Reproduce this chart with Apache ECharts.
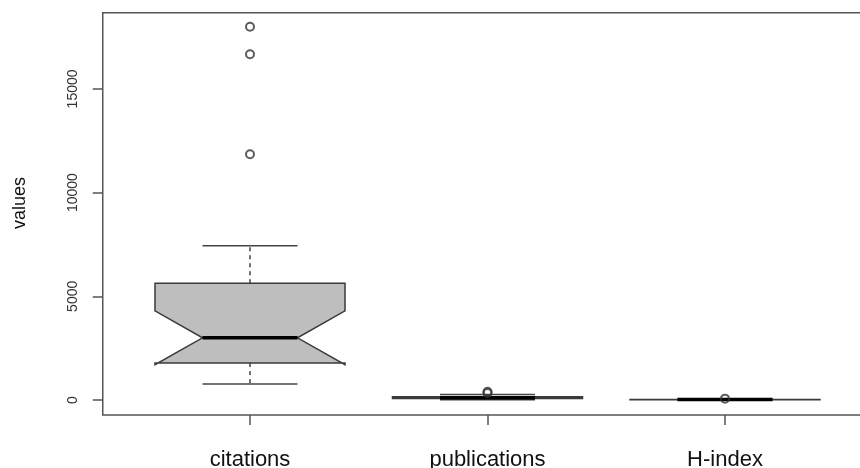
<!DOCTYPE html>
<html>
<head>
<meta charset="utf-8">
<script src="https://cdn.jsdelivr.net/npm/echarts@6/dist/echarts.min.js"></script>
<style>
html,body{margin:0;padding:0;background:#fff;}
#chart{width:860px;height:468px;}
</style>
</head>
<body>
<div id="chart"></div>
<script>
// Data
var categories = ['citations', 'publications', 'H-index'];
// [lowerWhisker, Q1, median, Q3, upperWhisker]
var boxStats = [
  [770, 1780, 3000, 5630, 7440],
  [15, 70, 110, 160, 270],
  [5, 12, 20, 30, 45]
];
// notch limits [lower, upper]
var notches = [
  [1700, 4300],
  [85, 135],
  [16, 24]
];
var outliersCitations = [11850, 16670, 18000];
var outliersPublications = [340, 400];
var outliersHindex = [65];
var yTicks = [0, 5000, 10000, 15000];

var outlierData = [];
[outliersCitations, outliersPublications, outliersHindex].forEach(function (arr, i) {
  arr.forEach(function (v) { outlierData.push([i + 1, v]); });
});

var boxData = boxStats.map(function (s, i) {
  return [i + 1, s[0], s[1], s[2], s[3], s[4], notches[i][0], notches[i][1]];
});

function renderBox(params, api) {
  var x = api.value(0);
  var lo = api.value(1), q1 = api.value(2), med = api.value(3), q3 = api.value(4), hi = api.value(5);
  var nLo = api.value(6), nHi = api.value(7);
  var hw = 0.4, nw = 0.2, cw = 0.2;
  function c(xx, yy) { return api.coord([xx, yy]); }
  var poly = [
    c(x - hw, q1), c(x - hw, nLo), c(x - nw, med), c(x - hw, nHi), c(x - hw, q3),
    c(x + hw, q3), c(x + hw, nHi), c(x + nw, med), c(x + hw, nLo), c(x + hw, q1)
  ];
  var lineStyle = { stroke: '#444', lineWidth: 1.5, fill: null };
  var dashStyle = { stroke: '#444', lineWidth: 1.5, lineDash: [4, 4], fill: null };
  var pU1 = c(x, q3), pU2 = c(x, hi), pL1 = c(x, q1), pL2 = c(x, lo);
  var capHi1 = c(x - cw, hi), capHi2 = c(x + cw, hi);
  var capLo1 = c(x - cw, lo), capLo2 = c(x + cw, lo);
  var m1 = c(x - nw, med), m2 = c(x + nw, med);
  return {
    type: 'group',
    children: [
      { type: 'line', shape: { x1: pU1[0], y1: pU1[1], x2: pU2[0], y2: pU2[1] }, style: dashStyle },
      { type: 'line', shape: { x1: pL1[0], y1: pL1[1], x2: pL2[0], y2: pL2[1] }, style: dashStyle },
      { type: 'line', shape: { x1: capHi1[0], y1: capHi1[1], x2: capHi2[0], y2: capHi2[1] }, style: lineStyle },
      { type: 'line', shape: { x1: capLo1[0], y1: capLo1[1], x2: capLo2[0], y2: capLo2[1] }, style: lineStyle },
      { type: 'polygon', shape: { points: poly }, style: { fill: '#BEBEBE', stroke: '#3a3a3a', lineWidth: 1.5 } },
      { type: 'line', shape: { x1: m1[0], y1: m1[1], x2: m2[0], y2: m2[1] }, style: { stroke: '#000', lineWidth: 3.5 } }
    ]
  };
}

var chart = echarts.init(document.getElementById('chart'), null, { renderer: 'canvas' });
chart.setOption({
  animation: false,
  backgroundColor: '#fff',
  grid: {
    left: 102.75, top: 12.7, width: 769.5, height: 402.3,
    outerBoundsMode: 'none', containLabel: false,
    show: true, borderColor: '#555', borderWidth: 1.5, backgroundColor: 'transparent'
  },
  xAxis: {
    type: 'value', min: 0.38, max: 3.62,
    splitLine: { show: false },
    axisLine: { show: false, onZero: false },
    axisTick: { show: true, customValues: [1, 2, 3], length: 10, lineStyle: { color: '#555', width: 1.5 } },
    axisLabel: {
      customValues: [1, 2, 3], margin: 34,
      formatter: function (v) { return categories[Math.round(v) - 1]; },
      fontFamily: 'Liberation Sans, Arial, sans-serif', fontSize: 22, color: '#111'
    }
  },
  yAxis: {
    type: 'value', min: -723, max: 18676,
    splitLine: { show: false },
    axisLine: { show: false, onZero: false },
    axisTick: { show: true, customValues: yTicks, length: 10, lineStyle: { color: '#555', width: 1.5 } },
    axisLabel: {
      customValues: yTicks, rotate: 90, margin: 23,
      formatter: function (v) { return String(v); },
      fontFamily: 'Liberation Sans, Arial, sans-serif', fontSize: 14, color: '#333'
    }
  },
  graphic: [{
    type: 'text', x: 20, y: 203, rotation: Math.PI / 2,
    style: { text: 'values', fontFamily: 'Liberation Sans, Arial, sans-serif', fontSize: 18, fill: '#111', align: 'center', verticalAlign: 'middle' }
  }],
  series: [
    {
      type: 'custom', renderItem: renderBox, data: boxData,
      encode: { x: 0, y: [1, 2, 3, 4, 5] }, clip: false
    },
    {
      type: 'scatter', data: outlierData, symbol: 'circle', symbolSize: 8,
      itemStyle: { color: 'transparent', borderColor: '#333', borderWidth: 2 }
    }
  ]
});
</script>
</body>
</html>
